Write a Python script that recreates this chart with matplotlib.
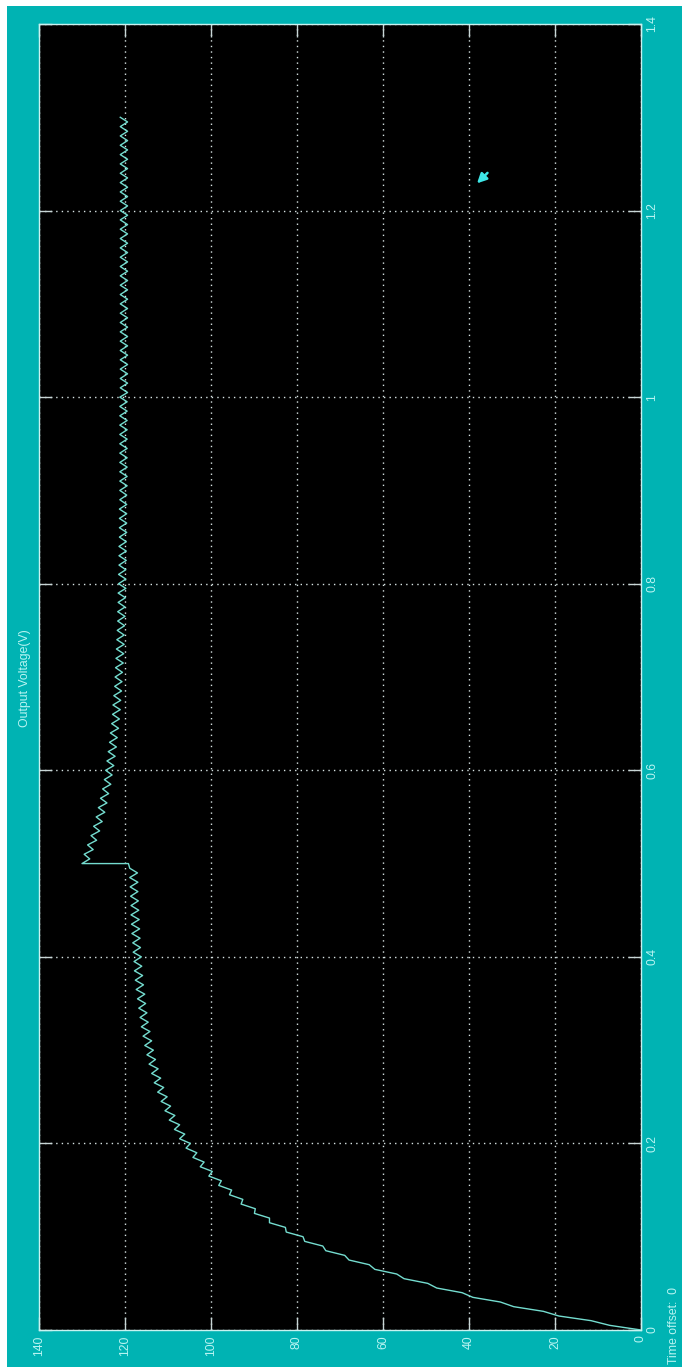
import numpy as np
import matplotlib
matplotlib.use("Agg")
import matplotlib.pyplot as plt
from matplotlib.patches import Rectangle

sample_step = 0.005  # s
load_step_time = 0.5  # s

# charging phase, t = 0 ... 0.5 s
v_charge = [
    0.0, 7.3, 11.6, 19.1, 22.7, 29.6, 32.7, 39.1, 41.6, 47.5,
    49.6, 55.1, 56.8, 61.9, 63.2, 67.9, 68.9, 73.3, 74.0, 78.2,
    78.6, 82.5, 82.7, 86.4, 86.4, 89.9, 89.7, 93.0, 92.6, 95.7,
    95.2, 98.2, 97.6, 100.5, 99.7, 102.5, 101.6, 104.2, 103.3, 105.8,
    104.8, 107.3, 106.1, 108.5, 107.3, 109.7, 108.4, 110.7, 109.4, 111.6,
    110.2, 112.4, 111.0, 113.2, 111.7, 113.8, 112.3, 114.4, 112.9, 114.9,
    113.4, 115.4, 113.8, 115.8, 114.2, 116.2, 114.6, 116.5, 114.9, 116.8,
    115.2, 117.1, 115.4, 117.4, 115.7, 117.6, 115.9, 117.8, 116.1, 117.9,
    116.2, 118.1, 116.4, 118.2, 116.5, 118.4, 116.6, 118.5, 116.7, 118.6,
    116.8, 118.6, 116.9, 118.7, 117.0, 118.8, 117.0, 118.9, 117.1, 118.9,
    119.2,
]

# after the step at t = 0.5 s, up to t = 1.3 s
v_load = [
    130.0, 128.2, 129.5, 127.4, 128.7, 126.6, 127.9, 125.9, 127.3, 125.3,
    126.7, 124.7, 126.2, 124.2, 125.7, 123.8, 125.2, 123.3, 124.8, 123.0,
    124.5, 122.6, 124.2, 122.3, 123.9, 122.0, 123.6, 121.8, 123.4, 121.5,
    123.1, 121.3, 122.9, 121.1, 122.8, 121.0, 122.6, 120.8, 122.4, 120.7,
    122.3, 120.6, 122.2, 120.4, 122.1, 120.3, 122.0, 120.2, 121.9, 120.2,
    121.8, 120.1, 121.7, 120.0, 121.7, 120.0, 121.6, 119.9, 121.6, 119.8,
    121.5, 119.8, 121.5, 119.8, 121.4, 119.7, 121.4, 119.7, 121.4, 119.7,
    121.3, 119.6, 121.3, 119.6, 121.3, 119.6, 121.3, 119.6, 121.2, 119.6,
    121.2, 119.5, 121.2, 119.5, 121.2, 119.5, 121.2, 119.5, 121.2, 119.5,
    121.2, 119.5, 121.2, 119.5, 121.2, 119.5, 121.2, 119.5, 121.2, 119.5,
    121.2, 119.4, 121.1, 119.4, 121.1, 119.4, 121.1, 119.4, 121.1, 119.4,
    121.1, 119.4, 121.1, 119.4, 121.1, 119.4, 121.1, 119.4, 121.1, 119.4,
    121.1, 119.4, 121.1, 119.4, 121.1, 119.4, 121.1, 119.4, 121.1, 119.4,
    121.1, 119.4, 121.1, 119.4, 121.1, 119.4, 121.1, 119.4, 121.1, 119.4,
    121.1, 119.4, 121.1, 119.4, 121.1, 119.4, 121.1, 119.4, 121.1, 119.4,
    121.1, 119.4, 121.1, 119.4, 121.1, 119.4, 121.1, 119.4, 121.1, 119.4,
    121.1,
]

voltage_ticks = [0, 20, 40, 60, 80, 100, 120, 140]
voltage_tick_labels = ["0", "20", "40", "60", "80", "100", "120", "140"]
time_ticks = [0, 0.2, 0.4, 0.6, 0.8, 1.0, 1.2, 1.4]
time_tick_labels = ["0", "0.2", "0.4", "0.6", "0.8", "1", "1.2", "1.4"]

title_text = "Output Voltage(V)"
offset_text = "Time offset:  0"

t_charge = np.arange(len(v_charge)) * sample_step
t_load = load_step_time + np.arange(len(v_load)) * sample_step
t_all = np.concatenate([t_charge, t_load])
v_all = np.concatenate([v_charge, v_load])

# ---- style ----
W, H = 682, 1367
DPI = 100
teal = "#00b3b3"
trace_col = "#74dccf"
label_col = "#b8f4f2"
grid_col = "#d8e4e4"
tick_col = "#c8d6d6"
font = ["Liberation Sans Narrow", "Liberation Sans", "DejaVu Sans"]
fs = 8.8

fig = plt.figure(figsize=(W / DPI, H / DPI), dpi=DPI, facecolor="white")
fig.patches.append(Rectangle((7 / W, 0), 1 - 7 / W, 1 - 6 / H,
                             transform=fig.transFigure, facecolor=teal,
                             edgecolor="none", zorder=-10))

left, right, top, bottom = 39, 641, 24, 1330
ax = fig.add_axes([left / W, 1 - bottom / H, (right - left) / W, (bottom - top) / H])
ax.set_facecolor("black")

ax.plot(v_all, t_all, color=trace_col, lw=1.0, zorder=3)

ax.set_xlim(140, 0)
ax.set_ylim(0, 1.4)

ax.set_xticks(voltage_ticks)
ax.set_xticklabels(voltage_tick_labels, rotation=90, color=label_col,
                   fontsize=fs, family=font)
ax.set_yticks(time_ticks)
ax.set_yticklabels(time_tick_labels, rotation=90, color=label_col,
                   fontsize=fs, family=font, va="center")

ax.tick_params(direction="in", length=9.5, width=1.0, color=tick_col,
               top=True, right=True, left=True, bottom=True,
               labelleft=False, labelright=True, labelbottom=True, pad=4)

ax.grid(True, color=grid_col, linestyle=(0, (1, 3)), linewidth=1.0, zorder=1)

for sp in ax.spines.values():
    sp.set_color("#c8f2f0")
    sp.set_linewidth(1.0)

# mouse cursor visible on the screenshot
ax.annotate("", xy=(0.7276, 0.878), xytext=(0.745, 0.886),
            xycoords="axes fraction", textcoords="axes fraction",
            arrowprops=dict(arrowstyle="-|>", color="#3ee6e6", lw=1.8,
                            mutation_scale=14, shrinkA=0, shrinkB=0))

fig.text(25 / W, 1 - 678 / H, title_text, rotation=90, ha="center", va="center",
         color=label_col, fontsize=fs, family=font)
fig.text(674 / W, 3 / H, offset_text, rotation=90, ha="center", va="bottom",
         color=label_col, fontsize=fs, family=font)

fig.savefig("out.png", dpi=DPI, facecolor="white")
